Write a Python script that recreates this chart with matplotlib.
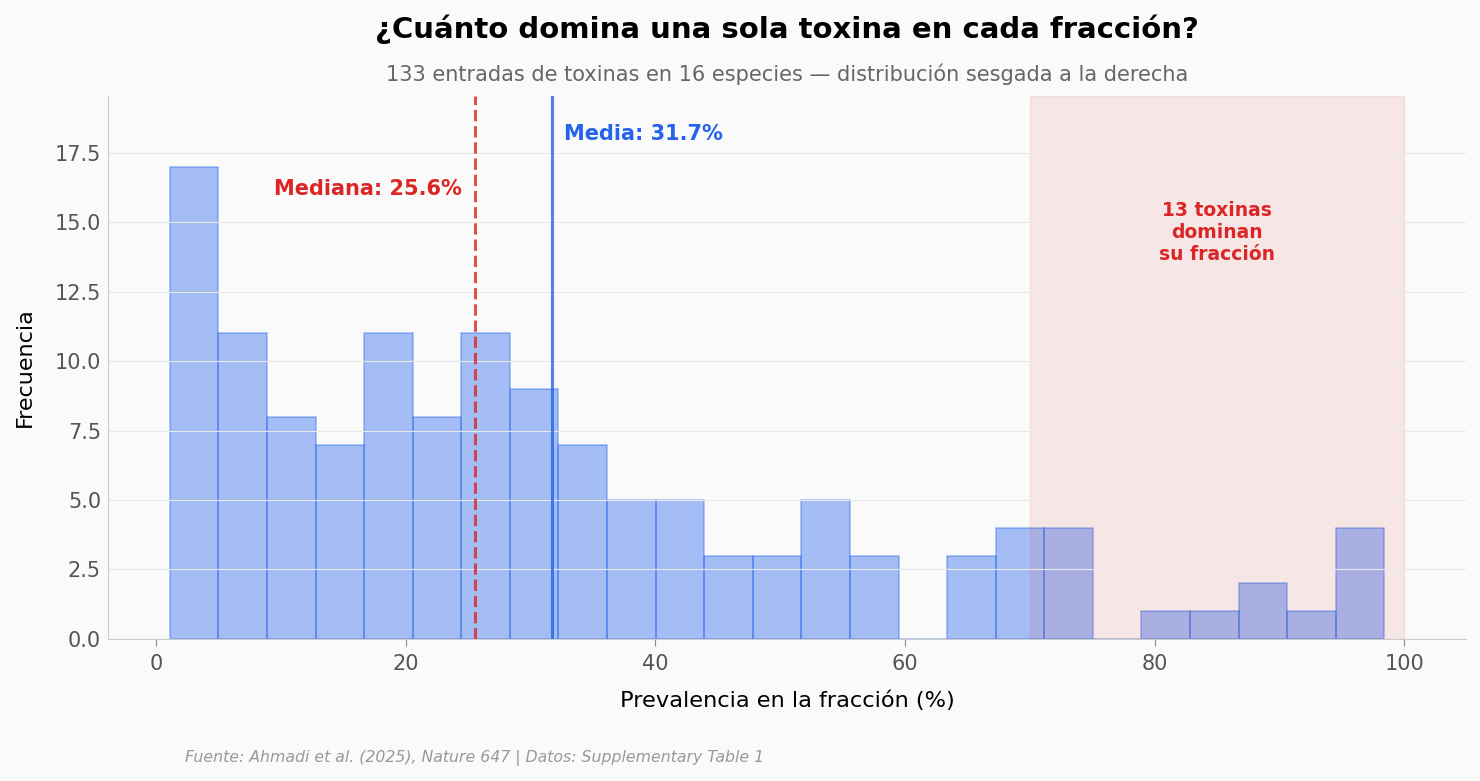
import numpy as np
import matplotlib
matplotlib.use('Agg')
import matplotlib.pyplot as plt

# datos del histograma
conteos = [17, 11, 8, 7, 11, 8, 11, 9, 7, 5, 5, 3, 3, 5, 3, 0, 3, 4, 4, 0, 1, 1, 2, 1, 4]
prev_min = 1.12
prev_max = 98.4
mediana = 25.6
media = 31.7
umbral = 70
n_dominan = 13

titulo = '¿Cuánto domina una sola toxina en cada fracción?'
subtitulo = '133 entradas de toxinas en 16 especies — distribución sesgada a la derecha'
fuente = 'Fuente: Ahmadi et al. (2025), Nature 647 | Datos: Supplementary Table 1'

azul = '#2563eb'
rojo = '#dc2626'

bordes = np.linspace(prev_min, prev_max, len(conteos) + 1)
centros = (bordes[:-1] + bordes[1:]) / 2

fig = plt.figure(figsize=(14.8, 7.81), dpi=100, facecolor='#fafafa')
ax = fig.add_axes([0.073, 0.182, 0.9176, 0.695])
ax.set_facecolor('#fafafa')

ax.hist(centros, bins=bordes, weights=conteos, color=azul, alpha=0.4,
        edgecolor=azul, linewidth=1.2)
ax.axvspan(umbral, 100, color=rojo, alpha=0.09)

ax.axvline(mediana, color=rojo, linestyle='--', linewidth=2.2, alpha=0.8)
ax.axvline(media, color=azul, linestyle='-', linewidth=2.2, alpha=0.8)

ax.set_ylim(0, max(conteos) * 1.15)

ax.text(mediana - 1.1, 16.2, f'Mediana: {mediana}%', color=rojo, fontsize=15,
        fontweight='bold', ha='right', va='center')
ax.text(media + 1.0, 18.2, f'Media: {media}%', color=azul, fontsize=15,
        fontweight='bold', ha='left', va='center')
ax.text(85, 14.65, f'{n_dominan} toxinas\ndominan\nsu fracción', color=rojo,
        fontsize=13.5, fontweight='bold', ha='center', va='center', linespacing=1.2)

ax.text(0.5, 1.1234, titulo, transform=ax.transAxes, ha='center', va='center',
        fontsize=21, fontweight='bold')
ax.text(0.5, 1.0405, subtitulo, transform=ax.transAxes, ha='center', va='center',
        fontsize=15, color='#666666')

ax.set_xlabel('Prevalencia en la fracción (%)', fontsize=16.2, labelpad=12)
ax.set_ylabel('Frecuencia', fontsize=16, labelpad=14)

ax.grid(axis='y', color='#e8e8e8', linewidth=0.8)
ax.spines['top'].set_visible(False)
ax.spines['right'].set_visible(False)
ax.spines['left'].set_color('#cccccc')
ax.spines['bottom'].set_color('#cccccc')
ax.tick_params(axis='both', labelsize=15, colors='#555555')
ax.tick_params(axis='y', length=0, pad=5)
ax.tick_params(axis='x', length=5, color='#888888', pad=6)

fig.text(0.125, 0.0295, fuente, ha='left', va='center', fontsize=11.3,
         style='italic', color='#999999')

fig.savefig('out.png', dpi=100, facecolor=fig.get_facecolor())
